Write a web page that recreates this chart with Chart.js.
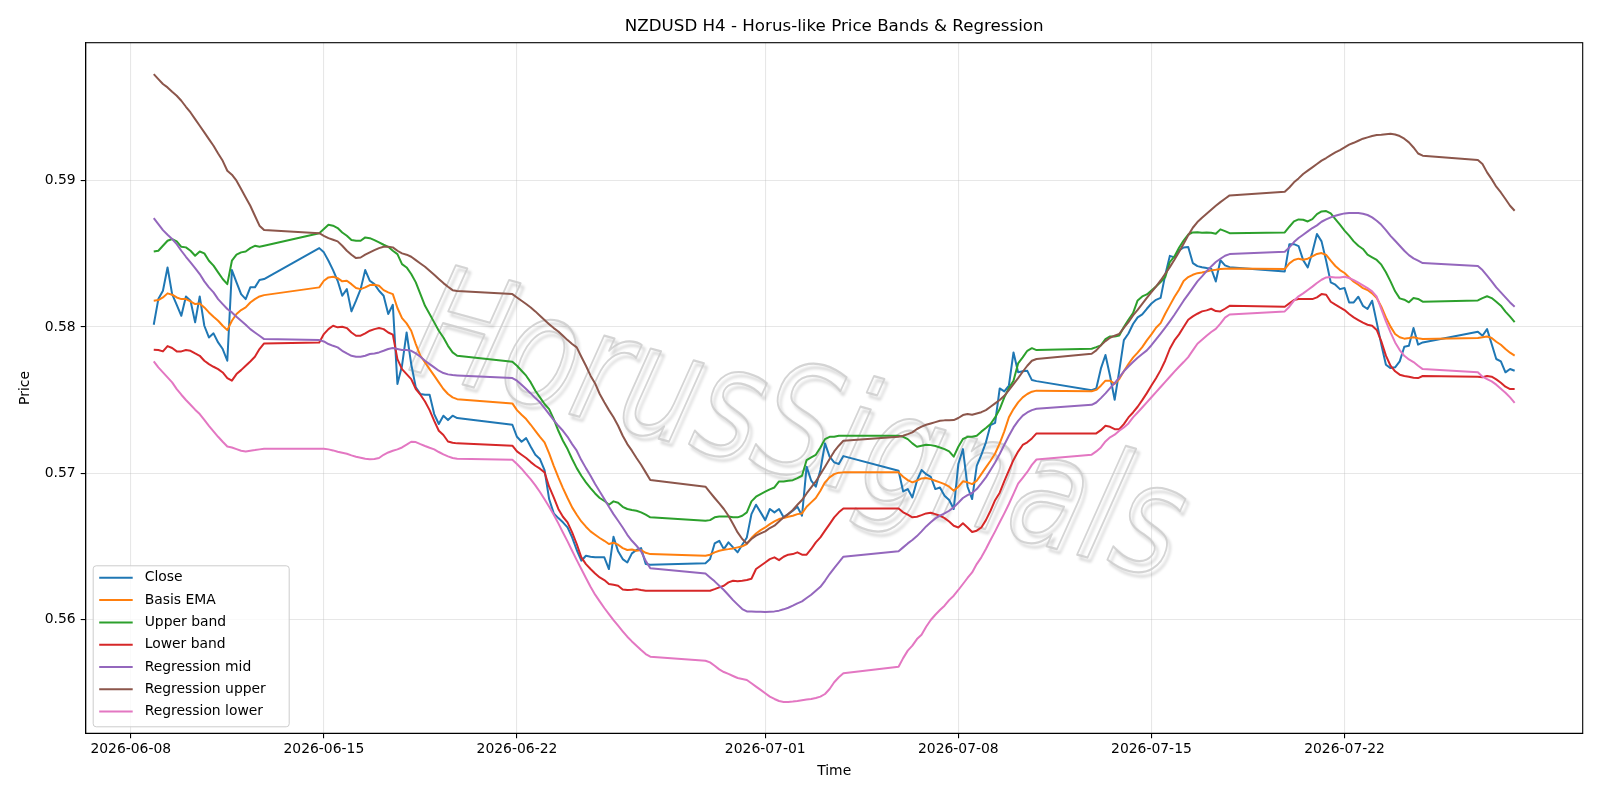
<!DOCTYPE html>
<html>
<head>
<meta charset="utf-8">
<title>NZDUSD H4 - Horus-like Price Bands & Regression</title>
<script src="https://cdn.jsdelivr.net/npm/chart.js@4.4.1/dist/chart.umd.min.js"></script>
<style>
  html, body { margin: 0; padding: 0; background: #ffffff; }
  #wrap { width: 1600px; height: 800px; }
</style>
</head>
<body>
<div id="wrap"><canvas id="chart" width="1600" height="800"></canvas></div>
<script>
// first H4 bar of each trading week, and the number of bars in that week
const sessionStarts = ['2026-06-08T20:00', '2026-06-14T20:00', '2026-06-21T20:00', '2026-06-28T20:00',
                       '2026-07-05T20:00', '2026-07-12T20:00', '2026-07-19T20:00', '2026-07-26T20:00'];
const sessionBars = [25, 31, 31, 31, 31, 31, 31, 9];

const xTickLabels = ['2026-06-08', '2026-06-15', '2026-06-22', '2026-07-01', '2026-07-08', '2026-07-15', '2026-07-22'];
const yTickValues = [0.56, 0.57, 0.58, 0.59];

const closeValues = [
  0.58015, 0.58190, 0.58247, 0.58406, 0.58224, 0.58151, 0.58076, 0.58208, 0.58179, 0.58031, 0.58208, 0.58008, 0.57928,
  0.57956, 0.57894, 0.57849, 0.57769, 0.58388, 0.58304, 0.58224, 0.58190, 0.58270, 0.58270, 0.58320, 0.58327,
  0.58538, 0.58509, 0.58452, 0.58388, 0.58315, 0.58213, 0.58258, 0.58106, 0.58179, 0.58258, 0.58388, 0.58315, 0.58292,
  0.58247, 0.58213, 0.58088, 0.58151, 0.57610, 0.57735, 0.57962, 0.57746, 0.57587, 0.57542, 0.57537, 0.57537, 0.57405,
  0.57337, 0.57394, 0.57364, 0.57394, 0.57378,
  0.57332, 0.57250, 0.57216, 0.57241, 0.57182, 0.57127, 0.57098, 0.57023, 0.56825, 0.56727, 0.56695, 0.56666, 0.56631,
  0.56563, 0.56477, 0.56404, 0.56438, 0.56431, 0.56427, 0.56427, 0.56427, 0.56347, 0.56568, 0.56468, 0.56415, 0.56392,
  0.56454, 0.56477, 0.56490, 0.56381, 0.56377,
  0.56386, 0.56415, 0.56522, 0.56540, 0.56483, 0.56529, 0.56495, 0.56461, 0.56513, 0.56563, 0.56722, 0.56786, 0.56734,
  0.56681, 0.56757, 0.56734, 0.56757, 0.56700, 0.56722, 0.56745, 0.56772, 0.56711, 0.57046, 0.56950, 0.56909, 0.57023,
  0.57205, 0.57114, 0.57075, 0.57064, 0.57118,
  0.57018, 0.56877, 0.56893, 0.56836, 0.56950, 0.57023, 0.56995, 0.56977, 0.56893, 0.56904, 0.56848, 0.56818, 0.56757,
  0.57064, 0.57166, 0.56909, 0.56825, 0.57052, 0.57127, 0.57212, 0.57330, 0.57345, 0.57580, 0.57560, 0.57600, 0.57826,
  0.57690, 0.57697, 0.57700, 0.57637, 0.57630,
  0.57568, 0.57580, 0.57715, 0.57808, 0.57665, 0.57503, 0.57700, 0.57910, 0.57955, 0.58020, 0.58065, 0.58085, 0.58124,
  0.58160, 0.58185, 0.58198, 0.58355, 0.58485, 0.58475, 0.58522, 0.58542, 0.58545, 0.58436, 0.58415, 0.58408, 0.58402,
  0.58398, 0.58310, 0.58455, 0.58420, 0.58408,
  0.58379, 0.58565, 0.58565, 0.58552, 0.58456, 0.58406, 0.58509, 0.58634, 0.58584, 0.58452, 0.58304, 0.58288, 0.58258,
  0.58265, 0.58167, 0.58167, 0.58206, 0.58144, 0.58122, 0.58179, 0.58031, 0.57879, 0.57742, 0.57719, 0.57724, 0.57765,
  0.57865, 0.57872, 0.57992, 0.57879, 0.57894,
  0.57967, 0.57940, 0.57985, 0.57883, 0.57781, 0.57765, 0.57690, 0.57713, 0.57701
];

const basisEma = [
  0.58179, 0.58183, 0.58201, 0.58229, 0.58220, 0.58201, 0.58190, 0.58190, 0.58174, 0.58156, 0.58160, 0.58133, 0.58099,
  0.58069, 0.58042, 0.58008, 0.57978, 0.58042, 0.58088, 0.58115, 0.58133, 0.58167, 0.58190, 0.58208, 0.58217,
  0.58270, 0.58315, 0.58338, 0.58342, 0.58333, 0.58311, 0.58315, 0.58292, 0.58265, 0.58258, 0.58270, 0.58286, 0.58288,
  0.58281, 0.58251, 0.58236, 0.58224, 0.58129, 0.58060, 0.58024, 0.57974, 0.57883, 0.57803, 0.57758, 0.57712, 0.57667,
  0.57621, 0.57576, 0.57542, 0.57519, 0.57507,
  0.57478, 0.57432, 0.57400, 0.57371, 0.57332, 0.57291, 0.57250, 0.57212, 0.57137, 0.57052, 0.56973, 0.56900, 0.56832,
  0.56768, 0.56718, 0.56672, 0.56636, 0.56604, 0.56581, 0.56559, 0.56540, 0.56518, 0.56527, 0.56513, 0.56490, 0.56477,
  0.56481, 0.56472, 0.56477, 0.56458, 0.56449,
  0.56438, 0.56445, 0.56461, 0.56472, 0.56479, 0.56483, 0.56488, 0.56495, 0.56502, 0.56518, 0.56559, 0.56590, 0.56613,
  0.56631, 0.56654, 0.56672, 0.56688, 0.56695, 0.56704, 0.56711, 0.56722, 0.56727, 0.56772, 0.56802, 0.56832, 0.56882,
  0.56939, 0.56973, 0.56995, 0.57005, 0.57007,
  0.57007, 0.56977, 0.56954, 0.56939, 0.56950, 0.56966, 0.56968, 0.56961, 0.56950, 0.56939, 0.56927, 0.56909, 0.56882,
  0.56909, 0.56946, 0.56939, 0.56927, 0.56950, 0.56995, 0.57041, 0.57086, 0.57136, 0.57205, 0.57287, 0.57383, 0.57439,
  0.57485, 0.57519, 0.57542, 0.57558, 0.57565,
  0.57561, 0.57570, 0.57599, 0.57633, 0.57633, 0.57611, 0.57644, 0.57697, 0.57747, 0.57790, 0.57825, 0.57862, 0.57908,
  0.57949, 0.57994, 0.58026, 0.58090, 0.58147, 0.58204, 0.58254, 0.58313, 0.58340, 0.58356, 0.58367, 0.58372, 0.58379,
  0.58386, 0.58390, 0.58395, 0.58397, 0.58399,
  0.58395, 0.58434, 0.58457, 0.58466, 0.58459, 0.58466, 0.58482, 0.58498, 0.58504, 0.58491, 0.58452, 0.58416, 0.58388,
  0.58368, 0.58338, 0.58309, 0.58288, 0.58265, 0.58252, 0.58229, 0.58197, 0.58138, 0.58065, 0.58002, 0.57952, 0.57929,
  0.57920, 0.57924, 0.57929, 0.57922, 0.57917,
  0.57924, 0.57929, 0.57935, 0.57924, 0.57899, 0.57878, 0.57849, 0.57824, 0.57804
];

const upperBand = [
  0.58515, 0.58520, 0.58554, 0.58588, 0.58600, 0.58584, 0.58547, 0.58543, 0.58520, 0.58486, 0.58515, 0.58502, 0.58452,
  0.58418, 0.58372, 0.58327, 0.58292, 0.58452, 0.58493, 0.58509, 0.58515, 0.58538, 0.58554, 0.58547, 0.58554,
  0.58640, 0.58668, 0.58697, 0.58691, 0.58675, 0.58645, 0.58622, 0.58593, 0.58588, 0.58588, 0.58611, 0.58606, 0.58593,
  0.58577, 0.58561, 0.58547, 0.58520, 0.58497, 0.58429, 0.58406, 0.58361, 0.58304, 0.58224, 0.58144, 0.58088, 0.58031,
  0.57974, 0.57928, 0.57871, 0.57826, 0.57803,
  0.57762, 0.57735, 0.57701, 0.57667, 0.57621, 0.57564, 0.57519, 0.57474, 0.57439, 0.57371, 0.57291, 0.57223, 0.57166,
  0.57098, 0.57036, 0.56984, 0.56939, 0.56900, 0.56863, 0.56832, 0.56813, 0.56786, 0.56809, 0.56800, 0.56772, 0.56757,
  0.56750, 0.56745, 0.56734, 0.56718, 0.56700,
  0.56677, 0.56681, 0.56700, 0.56705, 0.56705, 0.56705, 0.56700, 0.56700, 0.56711, 0.56734, 0.56809, 0.56841, 0.56859,
  0.56875, 0.56891, 0.56904, 0.56945, 0.56945, 0.56950, 0.56954, 0.56968, 0.56984, 0.57091, 0.57109, 0.57127, 0.57177,
  0.57234, 0.57250, 0.57250, 0.57257, 0.57257,
  0.57257, 0.57250, 0.57234, 0.57205, 0.57182, 0.57189, 0.57196, 0.57193, 0.57187, 0.57177, 0.57166, 0.57150, 0.57114,
  0.57182, 0.57235, 0.57250, 0.57250, 0.57257, 0.57285, 0.57310, 0.57337, 0.57382, 0.57439, 0.57519, 0.57583, 0.57633,
  0.57751, 0.57792, 0.57837, 0.57855, 0.57842,
  0.57851, 0.57862, 0.57874, 0.57917, 0.57935, 0.57935, 0.57942, 0.57999, 0.58049, 0.58094, 0.58181, 0.58208, 0.58222,
  0.58249, 0.58276, 0.58306, 0.58340, 0.58443, 0.58481, 0.58540, 0.58590, 0.58631, 0.58645, 0.58647, 0.58643, 0.58645,
  0.58643, 0.58636, 0.58666, 0.58654, 0.58640,
  0.58645, 0.58684, 0.58720, 0.58734, 0.58732, 0.58720, 0.58736, 0.58770, 0.58788, 0.58791, 0.58775, 0.58736, 0.58698,
  0.58657, 0.58623, 0.58584, 0.58554, 0.58532, 0.58493, 0.58475, 0.58457, 0.58425, 0.58373, 0.58311, 0.58243, 0.58195,
  0.58186, 0.58168, 0.58197, 0.58191, 0.58172,
  0.58181, 0.58197, 0.58209, 0.58197, 0.58172, 0.58145, 0.58104, 0.58070, 0.58033
];

const lowerBand = [
  0.57844, 0.57842, 0.57833, 0.57869, 0.57856, 0.57833, 0.57833, 0.57842, 0.57837, 0.57819, 0.57803, 0.57769, 0.57746,
  0.57728, 0.57712, 0.57689, 0.57651, 0.57633, 0.57678, 0.57705, 0.57735, 0.57764, 0.57796, 0.57849, 0.57887,
  0.57894, 0.57951, 0.57985, 0.58008, 0.57997, 0.58001, 0.57992, 0.57962, 0.57940, 0.57940, 0.57956, 0.57974, 0.57985,
  0.57992, 0.57985, 0.57962, 0.57947, 0.57780, 0.57712, 0.57678, 0.57644, 0.57576, 0.57537, 0.57491, 0.57432, 0.57359,
  0.57291, 0.57262, 0.57218, 0.57209, 0.57205,
  0.57189, 0.57150, 0.57127, 0.57105, 0.57077, 0.57052, 0.57032, 0.57007, 0.56909, 0.56836, 0.56757, 0.56704, 0.56666,
  0.56597, 0.56518, 0.56427, 0.56381, 0.56347, 0.56317, 0.56290, 0.56272, 0.56245, 0.56240, 0.56233, 0.56208, 0.56204,
  0.56206, 0.56210, 0.56204, 0.56199, 0.56199,
  0.56199, 0.56199, 0.56210, 0.56222, 0.56233, 0.56256, 0.56267, 0.56263, 0.56267, 0.56272, 0.56281, 0.56347, 0.56370,
  0.56392, 0.56415, 0.56427, 0.56408, 0.56431, 0.56445, 0.56449, 0.56461, 0.56445, 0.56445, 0.56484, 0.56529, 0.56563,
  0.56609, 0.56654, 0.56700, 0.56734, 0.56761,
  0.56761, 0.56734, 0.56718, 0.56700, 0.56704, 0.56715, 0.56727, 0.56731, 0.56722, 0.56711, 0.56695, 0.56672, 0.56643,
  0.56631, 0.56659, 0.56631, 0.56600, 0.56609, 0.56631, 0.56681, 0.56745, 0.56817, 0.56868, 0.56947, 0.57021, 0.57092,
  0.57149, 0.57194, 0.57212, 0.57239, 0.57273,
  0.57273, 0.57273, 0.57295, 0.57325, 0.57318, 0.57302, 0.57302, 0.57336, 0.57382, 0.57416, 0.57455, 0.57500, 0.57548,
  0.57600, 0.57650, 0.57705, 0.57771, 0.57851, 0.57908, 0.57949, 0.57999, 0.58049, 0.58072, 0.58090, 0.58106, 0.58113,
  0.58124, 0.58108, 0.58106, 0.58124, 0.58144,
  0.58138, 0.58161, 0.58184, 0.58190, 0.58190, 0.58190, 0.58190, 0.58202, 0.58224, 0.58220, 0.58172, 0.58152, 0.58133,
  0.58115, 0.58088, 0.58065, 0.58047, 0.58029, 0.58015, 0.58008, 0.57979, 0.57901, 0.57804, 0.57735, 0.57697, 0.57674,
  0.57665, 0.57660, 0.57653, 0.57651, 0.57665,
  0.57660, 0.57656, 0.57665, 0.57660, 0.57642, 0.57619, 0.57592, 0.57576, 0.57576
];

const regMid = [
  0.58743, 0.58702, 0.58661, 0.58629, 0.58600, 0.58565, 0.58520, 0.58479, 0.58440, 0.58402, 0.58361, 0.58311, 0.58270,
  0.58236, 0.58190, 0.58156, 0.58122, 0.58099, 0.58069, 0.58042, 0.58015, 0.57985, 0.57962, 0.57940, 0.57917,
  0.57910, 0.57901, 0.57883, 0.57871, 0.57860, 0.57837, 0.57819, 0.57803, 0.57796, 0.57796, 0.57803, 0.57815, 0.57819,
  0.57826, 0.57837, 0.57849, 0.57856, 0.57849, 0.57842, 0.57842, 0.57837, 0.57819, 0.57796, 0.57769, 0.57746, 0.57724,
  0.57701, 0.57685, 0.57676, 0.57671, 0.57669,
  0.57651, 0.57633, 0.57605, 0.57576, 0.57546, 0.57514, 0.57485, 0.57446, 0.57405, 0.57364, 0.57325, 0.57291, 0.57250,
  0.57200, 0.57155, 0.57091, 0.57036, 0.56984, 0.56927, 0.56877, 0.56825, 0.56772, 0.56722, 0.56677, 0.56631, 0.56581,
  0.56540, 0.56506, 0.56468, 0.56404, 0.56352,
  0.56317, 0.56290, 0.56263, 0.56233, 0.56204, 0.56170, 0.56135, 0.56104, 0.56074, 0.56058, 0.56058, 0.56056, 0.56056,
  0.56053, 0.56056, 0.56058, 0.56063, 0.56072, 0.56083, 0.56097, 0.56113, 0.56126, 0.56149, 0.56172, 0.56199, 0.56226,
  0.56267, 0.56313, 0.56354, 0.56392, 0.56431,
  0.56468, 0.56495, 0.56522, 0.56545, 0.56572, 0.56604, 0.56638, 0.56666, 0.56693, 0.56711, 0.56727, 0.56745, 0.56768,
  0.56800, 0.56832, 0.56852, 0.56866, 0.56893, 0.56932, 0.56973, 0.57023, 0.57075, 0.57132, 0.57196, 0.57257, 0.57314,
  0.57359, 0.57394, 0.57416, 0.57432, 0.57441,
  0.57468, 0.57484, 0.57514, 0.57546, 0.57582, 0.57617, 0.57655, 0.57697, 0.57730, 0.57760, 0.57790, 0.57815, 0.57840,
  0.57875, 0.57915, 0.57955, 0.57995, 0.58038, 0.58083, 0.58131, 0.58179, 0.58222, 0.58267, 0.58311, 0.58345, 0.58381,
  0.58413, 0.58443, 0.58465, 0.58486, 0.58497,
  0.58513, 0.58543, 0.58579, 0.58607, 0.58629, 0.58652, 0.58675, 0.58693, 0.58718, 0.58734, 0.58748, 0.58759, 0.58768,
  0.58775, 0.58777, 0.58777, 0.58777, 0.58773, 0.58764, 0.58748, 0.58725, 0.58697, 0.58661, 0.58622, 0.58588, 0.58554,
  0.58520, 0.58490, 0.58468, 0.58452, 0.58436,
  0.58416, 0.58388, 0.58350, 0.58311, 0.58270, 0.58236, 0.58202, 0.58167, 0.58138
];

const regUpper = [
  0.59726, 0.59692, 0.59658, 0.59635, 0.59605, 0.59578, 0.59544, 0.59503, 0.59464, 0.59419, 0.59373, 0.59328, 0.59282,
  0.59237, 0.59184, 0.59134, 0.59066, 0.59039, 0.58998, 0.58941, 0.58884, 0.58827, 0.58759, 0.58691, 0.58661,
  0.58640, 0.58622, 0.58606, 0.58595, 0.58584, 0.58554, 0.58520, 0.58493, 0.58470, 0.58474, 0.58493, 0.58509, 0.58524,
  0.58538, 0.58547, 0.58547, 0.58543, 0.58520, 0.58502, 0.58493, 0.58479, 0.58456, 0.58433, 0.58411, 0.58383, 0.58356,
  0.58327, 0.58299, 0.58274, 0.58251, 0.58245,
  0.58224, 0.58201, 0.58179, 0.58156, 0.58133, 0.58106, 0.58076, 0.58047, 0.58019, 0.57992, 0.57969, 0.57940, 0.57910,
  0.57883, 0.57860, 0.57796, 0.57735, 0.57667, 0.57614, 0.57542, 0.57485, 0.57432, 0.57383, 0.57325, 0.57257, 0.57200,
  0.57155, 0.57105, 0.57059, 0.57007, 0.56955,
  0.56909, 0.56870, 0.56832, 0.56795, 0.56757, 0.56711, 0.56654, 0.56597, 0.56552, 0.56522, 0.56552, 0.56575, 0.56590,
  0.56604, 0.56627, 0.56643, 0.56672, 0.56700, 0.56722, 0.56750, 0.56786, 0.56818, 0.56863, 0.56904, 0.56945, 0.56995,
  0.57046, 0.57098, 0.57150, 0.57189, 0.57223,
  0.57250, 0.57257, 0.57268, 0.57280, 0.57303, 0.57319, 0.57332, 0.57341, 0.57350, 0.57359, 0.57362, 0.57362, 0.57364,
  0.57378, 0.57398, 0.57405, 0.57400, 0.57409, 0.57418, 0.57432, 0.57455, 0.57478, 0.57501, 0.57530, 0.57569, 0.57610,
  0.57651, 0.57694, 0.57735, 0.57769, 0.57781,
  0.57817, 0.57840, 0.57874, 0.57903, 0.57926, 0.57940, 0.57953, 0.57994, 0.58033, 0.58079, 0.58117, 0.58158, 0.58199,
  0.58238, 0.58276, 0.58317, 0.58363, 0.58408, 0.58458, 0.58511, 0.58568, 0.58625, 0.58677, 0.58716, 0.58745, 0.58772,
  0.58800, 0.58827, 0.58852, 0.58875, 0.58898,
  0.58923, 0.58952, 0.58987, 0.59014, 0.59044, 0.59067, 0.59089, 0.59112, 0.59135, 0.59153, 0.59173, 0.59191, 0.59207,
  0.59225, 0.59244, 0.59257, 0.59271, 0.59285, 0.59294, 0.59303, 0.59310, 0.59312, 0.59316, 0.59319, 0.59314, 0.59303,
  0.59285, 0.59260, 0.59225, 0.59184, 0.59169,
  0.59139, 0.59112, 0.59055, 0.59009, 0.58957, 0.58918, 0.58873, 0.58827, 0.58793
];

const regLower = [
  0.57765, 0.57724, 0.57690, 0.57655, 0.57621, 0.57575, 0.57537, 0.57501, 0.57469, 0.57435, 0.57405, 0.57365, 0.57325,
  0.57287, 0.57250, 0.57216, 0.57184, 0.57177, 0.57166, 0.57155, 0.57150, 0.57155, 0.57159, 0.57164, 0.57168,
  0.57168, 0.57168, 0.57164, 0.57157, 0.57148, 0.57141, 0.57134, 0.57123, 0.57114, 0.57107, 0.57100, 0.57096, 0.57098,
  0.57105, 0.57127, 0.57143, 0.57155, 0.57164, 0.57177, 0.57196, 0.57216, 0.57214, 0.57200, 0.57187, 0.57175, 0.57164,
  0.57146, 0.57130, 0.57116, 0.57105, 0.57100,
  0.57093, 0.57064, 0.57032, 0.56995, 0.56959, 0.56918, 0.56873, 0.56823, 0.56772, 0.56718, 0.56659, 0.56597, 0.56536,
  0.56472, 0.56408, 0.56347, 0.56286, 0.56226, 0.56172, 0.56126, 0.56081, 0.56040, 0.55999, 0.55960, 0.55922, 0.55885,
  0.55853, 0.55824, 0.55794, 0.55767, 0.55749,
  0.55721, 0.55710, 0.55687, 0.55662, 0.55644, 0.55631, 0.55617, 0.55603, 0.55597, 0.55590, 0.55567, 0.55544, 0.55522,
  0.55499, 0.55476, 0.55460, 0.55446, 0.55440, 0.55440, 0.55442, 0.55446, 0.55451, 0.55456, 0.55460, 0.55467, 0.55476,
  0.55494, 0.55528, 0.55574, 0.55608, 0.55635,
  0.55680, 0.55739, 0.55790, 0.55824, 0.55869, 0.55899, 0.55953, 0.55999, 0.56035, 0.56067, 0.56097, 0.56135, 0.56165,
  0.56204, 0.56245, 0.56286, 0.56324, 0.56381, 0.56427, 0.56484, 0.56545, 0.56604, 0.56666, 0.56727, 0.56791, 0.56860,
  0.56930, 0.56970, 0.57010, 0.57058, 0.57095,
  0.57128, 0.57150, 0.57177, 0.57218, 0.57246, 0.57264, 0.57291, 0.57314, 0.57341, 0.57382, 0.57416, 0.57450, 0.57485,
  0.57520, 0.57555, 0.57590, 0.57625, 0.57660, 0.57695, 0.57728, 0.57760, 0.57794, 0.57840, 0.57885, 0.57912, 0.57940,
  0.57965, 0.57987, 0.58022, 0.58063, 0.58085,
  0.58106, 0.58138, 0.58179, 0.58209, 0.58229, 0.58252, 0.58275, 0.58300, 0.58322, 0.58338, 0.58341, 0.58338, 0.58338,
  0.58343, 0.58334, 0.58320, 0.58302, 0.58284, 0.58265, 0.58243, 0.58206, 0.58122, 0.58038, 0.57963, 0.57894, 0.57842,
  0.57803, 0.57778, 0.57760, 0.57735, 0.57712,
  0.57690, 0.57660, 0.57644, 0.57628, 0.57606, 0.57578, 0.57551, 0.57519, 0.57482
];

// x positions are days since 2026-06-08 00:00 UTC
const DAY = 86400000;
const origin = Date.UTC(2026, 5, 8);
const toDays = s => (Date.parse(s + (s.length > 10 ? ':00Z' : 'T00:00:00Z')) - origin) / DAY;

const barTimes = [];
sessionStarts.forEach((s, i) => {
  const d0 = toDays(s);
  for (let b = 0; b < sessionBars[i]; b++) barTimes.push(d0 + b * 4 / 24);
});
const xTickDays = xTickLabels.map(toDays);

const first = barTimes[0], last = barTimes[barTimes.length - 1];
const xPad = (last - first) * 0.05;

const allValues = [].concat(closeValues, basisEma, upperBand, lowerBand, regMid, regUpper, regLower);
const yLo = Math.min(...allValues), yHi = Math.max(...allValues);
const yPad = (yHi - yLo) * 0.05;

const series = [
  ['Close', closeValues, '#1f77b4'],
  ['Basis EMA', basisEma, '#ff7f0e'],
  ['Upper band', upperBand, '#2ca02c'],
  ['Lower band', lowerBand, '#d62728'],
  ['Regression mid', regMid, '#9467bd'],
  ['Regression upper', regUpper, '#8c564b'],
  ['Regression lower', regLower, '#e377c2']
];

const FONT = '"DejaVu Sans", "Liberation Sans", sans-serif';

const watermark = {
  id: 'watermark',
  beforeDatasetsDraw(chart) {
    const { ctx, chartArea: a } = chart;
    ctx.save();
    ctx.beginPath();
    ctx.rect(a.left, a.top, a.right - a.left, a.bottom - a.top);
    ctx.clip();
    ctx.translate(786, 474);
    ctx.rotate(0.27);
    ctx.scale(0.78, 1);
    ctx.font = 'italic 155px ' + FONT;
    ctx.textAlign = 'center';
    ctx.textBaseline = 'alphabetic';
    ctx.lineJoin = 'round';
    ctx.shadowColor = 'rgba(0,0,0,0.22)';
    ctx.shadowOffsetX = 3;
    ctx.shadowOffsetY = 4;
    ctx.shadowBlur = 3;
    ctx.lineWidth = 2.2;
    ctx.strokeStyle = 'rgba(205,205,205,0.85)';
    ctx.strokeText('HorusSignals', 0, 0);
    ctx.restore();
  }
};

const frameAndText = {
  id: 'frameAndText',
  afterDatasetsDraw(chart) {
    const { ctx, chartArea: a } = chart;
    ctx.save();
    // axes frame
    ctx.strokeStyle = '#000';
    ctx.lineWidth = 1.1;
    ctx.strokeRect(a.left, a.top, a.right - a.left, a.bottom - a.top);

    // title
    ctx.fillStyle = '#000';
    ctx.font = '16.7px ' + FONT;
    ctx.textAlign = 'center';
    ctx.textBaseline = 'middle';
    ctx.fillText('NZDUSD H4 - Horus-like Price Bands & Regression', (a.left + a.right) / 2, 26.5);

    // legend, lower left inside the axes
    const sets = chart.data.datasets;
    const bx = a.left + 7, bw = 196, rowH = 22.3, bh = 161;
    const by = a.bottom - 7 - bh;
    ctx.beginPath();
    ctx.roundRect(bx + 0.5, by + 0.5, bw, bh, 3);
    ctx.fillStyle = 'rgba(255,255,255,0.8)';
    ctx.fill();
    ctx.strokeStyle = '#cccccc';
    ctx.lineWidth = 1;
    ctx.stroke();
    ctx.font = '13.9px ' + FONT;
    ctx.textAlign = 'left';
    sets.forEach((ds, i) => {
      const y = by + 12.5 + i * rowH;
      ctx.strokeStyle = ds.borderColor;
      ctx.lineWidth = 2;
      ctx.beginPath();
      ctx.moveTo(bx + 6.5, y);
      ctx.lineTo(bx + 40, y);
      ctx.stroke();
      ctx.fillStyle = '#000';
      ctx.fillText(ds.label, bx + 52, y);
    });
    ctx.restore();
  }
};

new Chart(document.getElementById('chart'), {
  type: 'line',
  data: {
    datasets: series.map(([label, vals, color], i) => ({
      label,
      data: vals.map((v, j) => ({ x: barTimes[j], y: v })),
      borderColor: color,
      backgroundColor: color,
      borderWidth: 2,
      pointRadius: 0,
      tension: 0,
      borderJoinStyle: 'round',
      fill: false,
      order: series.length - i
    }))
  },
  options: {
    responsive: false,
    animation: false,
    devicePixelRatio: 1,
    layout: { padding: { left: 0, right: 17.3, top: 42.7, bottom: 0 } },
    plugins: {
      legend: { display: false },
      title: { display: false },
      tooltip: { enabled: false }
    },
    scales: {
      x: {
        type: 'linear',
        min: first - xPad,
        max: last + xPad,
        afterFit: s => { s.height = 66.7; },
        afterBuildTicks: s => { s.ticks = xTickDays.map(v => ({ value: v })); },
        ticks: {
          color: '#000',
          font: { family: FONT, size: 13.9 },
          padding: 3,
          maxRotation: 0,
          autoSkip: false,
          callback: (v, i) => xTickLabels[i]
        },
        grid: { color: 'rgba(176,176,176,0.3)', lineWidth: 1.1, tickColor: '#000', tickLength: 5, tickWidth: 1.1 },
        border: { display: true, color: '#000', width: 1.1 },
        title: { display: true, text: 'Time', color: '#000', font: { family: FONT, size: 13.9 }, padding: { top: 0, bottom: 20.7 } }
      },
      y: {
        type: 'linear',
        min: yLo - yPad,
        max: yHi + yPad,
        afterFit: s => { s.width = 85.7; },
        afterBuildTicks: s => { s.ticks = yTickValues.map(v => ({ value: v })); },
        ticks: {
          color: '#000',
          font: { family: FONT, size: 13.9 },
          padding: 5,
          callback: v => v.toFixed(2)
        },
        grid: { color: 'rgba(176,176,176,0.3)', lineWidth: 1.1, tickColor: '#000', tickLength: 5, tickWidth: 1.1 },
        border: { display: true, color: '#000', width: 1.1 },
        title: { display: true, text: 'Price', color: '#000', font: { family: FONT, size: 13.9 }, padding: { top: 17.2, bottom: 0 } }
      }
    }
  },
  plugins: [watermark, frameAndText]
});
</script>
</body>
</html>
